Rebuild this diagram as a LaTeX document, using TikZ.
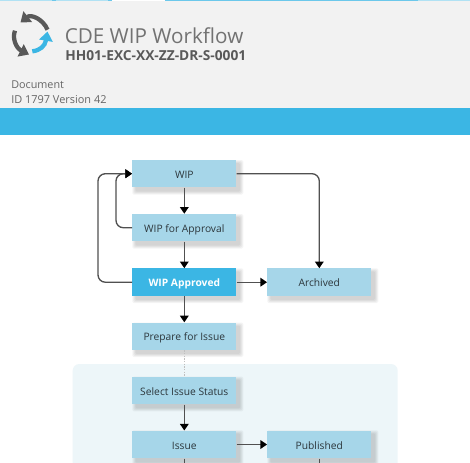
\documentclass[tikz,border=0pt]{standalone}
\usepackage{fontspec}
\setmainfont{Open Sans}
\usetikzlibrary{arrows.meta,calc}
\definecolor{hdr}{HTML}{F2F2F2}
\definecolor{band}{HTML}{3BB6E4}
\definecolor{boxc}{HTML}{A6D6E9}
\definecolor{panelc}{HTML}{EDF6F9}
\definecolor{txt}{HTML}{2C363B}
\definecolor{line}{HTML}{505050}
\definecolor{iconc}{HTML}{595959}
\tikzset{
  x=0.75pt,y=-0.75pt,
  flow/.style={draw=line,line width=1pt,rounded corners=5.5pt,-{Triangle[length=5pt,width=6.5pt,black]}},
  plainbox/.style={rectangle,minimum width=78pt,minimum height=20.6pt,inner sep=0pt,text height=7pt,text depth=0pt,font=\fontsize{7.7pt}{9pt}\selectfont,text=txt,anchor=center},
  wf/.style={plainbox,fill=boxc},
  wfon/.style={plainbox,fill=band,text=white,font=\fontsize{7.7pt}{9pt}\selectfont\bfseries},
  hdrtext/.style={anchor=base west,inner sep=0pt},
  icon/.style={line width=3.2pt,draw=iconc,-{Triangle[length=7pt,width=10pt]}},
  iconb/.style={icon,draw=band},
}
\newcommand{\softshadow}[4]{%
  \foreach \g in {0,1,2,3}{%
    \fill[black,opacity=0.045,rounded corners=1pt] (#1+3-\g,#2+3-\g) rectangle (#3+4+\g,#4+4+\g);}}
\begin{document}
\begin{tikzpicture}
\useasboundingbox (0,0) rectangle (470,462);
\fill[white] (0,0) rectangle (470,462);
\fill[hdr] (0,0) rectangle (470,108);
\fill[band] (0,108) rectangle (470,134.5);
\fill[band!40!white] (0,0) rectangle (52,1);
\fill[band!75!white] (52,0) rectangle (56,1);
\fill[band!40!white] (56,0) rectangle (108,1);
\fill[band!75!white] (108,0) rectangle (112,1);
\fill[white] (112,0) rectangle (165,1);
\fill[band!75!white] (165,0) rectangle (418,1);
\fill[band!40!white] (418,0) rectangle (470,1);
% logo
\draw[icon] (47.5,29.7) .. controls (43,19) and (31,14) .. (20.5,22.5);
\draw[icon] (15,30.7) .. controls (12,38) and (16,48) .. (29,54.5);
\draw[iconb] (32.3,51.3) .. controls (40,50.5) and (45,46) .. (47.5,31.5);
\node[hdrtext,font=\fontsize{15.5pt}{18pt}\selectfont,text=iconc!85!white] (title) at (64.5,43) {CDE WIP Workflow};
\node[hdrtext,font=\fontsize{10.3pt}{12pt}\selectfont\bfseries,text=iconc] (code) at (65,60) {HH01-EXC-XX-ZZ-DR-S-0001};
\node[hdrtext,font=\fontsize{8.1pt}{10pt}\selectfont,text=black!60] (doc) at (11,88) {Document};
\node[hdrtext,font=\fontsize{8.2pt}{10pt}\selectfont,text=black!60] (id) at (11,103) {ID 1797 Version 42};
% panel
\fill[panelc,rounded corners=5pt] (72.7,364) rectangle (397.7,475);
% shadows
\softshadow{132.3}{160}{236.3}{187.5}
\softshadow{132.3}{214}{236.3}{241.5}
\softshadow{132.3}{268.3}{236.3}{296}
\softshadow{132.3}{322.7}{236.3}{350}
\softshadow{132.3}{376.7}{236.3}{404.3}
\softshadow{132.3}{430.3}{236.3}{458.7}
\softshadow{267.3}{268.3}{371.3}{296}
\softshadow{267.3}{430.3}{371.3}{458.7}
% boxes
\node[wf] (wip) at (184.3,173.7) {WIP};
\node[wf] (appr) at (184.3,227.7) {WIP for Approval};
\node[wfon] (ok) at (184.3,282.2) {WIP Approved};
\node[wf] (arch) at (319.3,282.2) {Archived};
\node[wf] (prep) at (184.3,336.3) {Prepare for Issue};
\node[wf] (sel) at (184.3,390.5) {Select Issue Status};
\node[wf] (iss) at (184.3,444.5) {Issue};
\node[wf] (pub) at (319.3,444.5) {Published};
\coordinate (issdown) at (184.3,475);
\coordinate (pubdown) at (319.3,475);
\coordinate (inner) at (116,173.7);
\coordinate (outer) at (98,173.7);
% connectors
\draw[flow] (wip) -- (appr);
\draw[flow] (appr) -- (ok);
\draw[flow] (ok) -- (prep);
\draw[flow] (sel) -- (iss);
\draw[flow] (ok) -- (arch);
\draw[flow] (iss) -- (pub);
\draw[flow] (wip.east) -| (arch.north);
\draw[flow] (appr.west) -| (inner) -- (wip.west);
\draw[flow] (ok.west) -| (outer) -- (wip.west);
\draw[black!25,line width=1pt,densely dotted] (prep) -- (sel);
\draw[line,line width=1pt] (iss) -- (issdown);
\draw[line,line width=1pt] (pub) -- (pubdown);
\end{tikzpicture}
\end{document}
